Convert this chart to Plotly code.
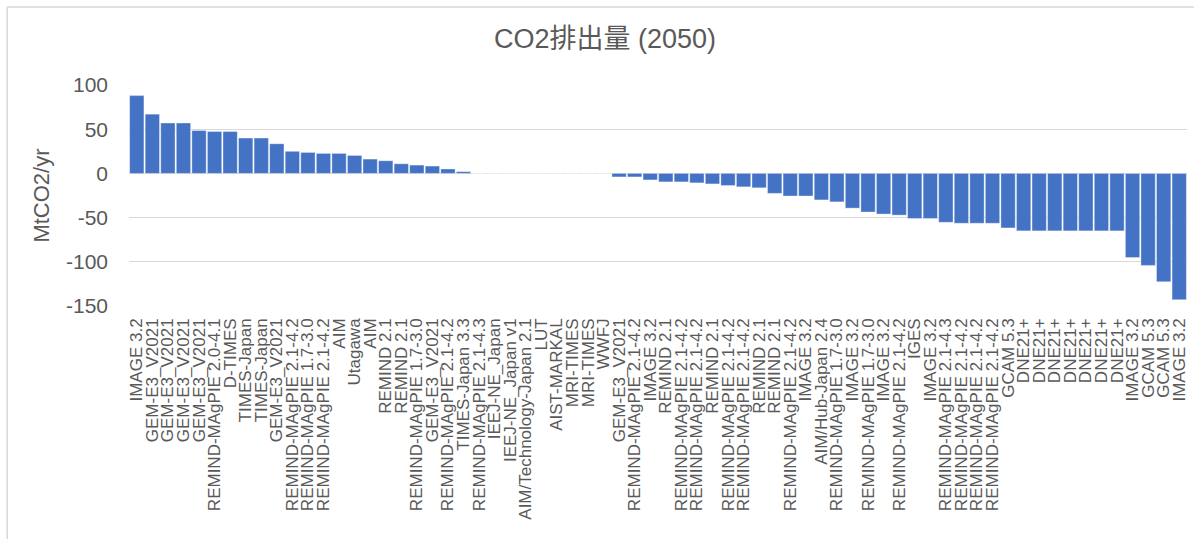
import plotly.graph_objects as go

labels = [
    "IMAGE 3.2", "GEM-E3_V2021", "GEM-E3_V2021", "GEM-E3_V2021", "GEM-E3_V2021",
    "REMIND-MAgPIE 2.0-4.1", "D-TIMES", "TIMES-Japan", "TIMES-Japan", "GEM-E3_V2021",
    "REMIND-MAgPIE 2.1-4.2", "REMIND-MAgPIE 1.7-3.0", "REMIND-MAgPIE 2.1-4.2", "AIM", "Utagawa",
    "AIM", "REMIND 2.1", "REMIND 2.1", "REMIND-MAgPIE 1.7-3.0", "GEM-E3_V2021",
    "REMIND-MAgPIE 2.1-4.2", "TIMES-Japan 3.3", "REMIND-MAgPIE 2.1-4.3", "IEEJ-NE_Japan", "IEEJ-NE_Japan v1",
    "AIM/Technology-Japan 2.1", "LUT", "AIST-MARKAL", "MRI-TIMES", "MRI-TIMES",
    "WWFJ", "GEM-E3_V2021", "REMIND-MAgPIE 2.1-4.2", "IMAGE 3.2", "REMIND 2.1",
    "REMIND-MAgPIE 2.1-4.2", "REMIND-MAgPIE 2.1-4.2", "REMIND 2.1", "REMIND-MAgPIE 2.1-4.2", "REMIND-MAgPIE 2.1-4.2",
    "REMIND 2.1", "REMIND 2.1", "REMIND-MAgPIE 2.1-4.2", "IMAGE 3.2", "AIM/Hub-Japan 2.4",
    "REMIND-MAgPIE 1.7-3.0", "IMAGE 3.2", "REMIND-MAgPIE 1.7-3.0", "IMAGE 3.2", "REMIND-MAgPIE 2.1-4.2",
    "IGES", "IMAGE 3.2", "REMIND-MAgPIE 2.1-4.3", "REMIND-MAgPIE 2.1-4.2", "REMIND-MAgPIE 2.1-4.2",
    "REMIND-MAgPIE 2.1-4.2", "GCAM 5.3", "DNE21+", "DNE21+", "DNE21+",
    "DNE21+", "DNE21+", "DNE21+", "DNE21+", "IMAGE 3.2",
    "GCAM 5.3", "GCAM 5.3", "IMAGE 3.2",
]

values = [
    88, 67, 57, 57, 48.5,
    47.4, 47.4, 40, 40, 33.5,
    25, 23.7, 22.6, 22.6, 20.3,
    16.2, 14.3, 10.9, 9.4, 8.3,
    5, 2, 0, 0, 0,
    0, 0, 0, 0, 0,
    0, -4, -4, -7.4, -9.6,
    -9.6, -10.7, -11.9, -13.7, -15.2,
    -16.3, -22.6, -25.6, -25.6, -30,
    -32.2, -39.3, -43.7, -46, -47.2,
    -51, -51, -55.3, -56.4, -56.4,
    -56.4, -61.7, -65, -65, -65,
    -65, -65, -65, -65, -95.1,
    -104.1, -122.6, -142.9,
]

y_ticks = [-150, -100, -50, 0, 50, 100]
y_tick_text = ["-150", "-100", "-50", "0", "50", "100"]

positions = list(range(len(labels)))

W, H = 1196, 539
L, R, T, B = 129, 7, 85, 233
pw, ph = W - L - R, H - T - B

FONT = "Arial, Liberation Sans, Noto Sans CJK JP, sans-serif"
GREY = "#595959"

fig = go.Figure(go.Bar(
    x=positions,
    y=values,
    marker=dict(color="#4472C4", line=dict(color="rgba(255,255,255,0.6)", width=0.6)),
    hovertext=labels,
))

def px_x(p):
    return (p - L) / pw

def px_y(p):
    return (H - B - p) / ph

shapes = [
    dict(type="line", xref="paper", yref="paper",
         x0=px_x(7), x1=px_x(W), y0=px_y(7), y1=px_y(7),
         line=dict(color="#D9D9D9", width=1.5)),
    dict(type="line", xref="paper", yref="paper",
         x0=px_x(7), x1=px_x(7), y0=px_y(7), y1=px_y(H),
         line=dict(color="#D9D9D9", width=1.5)),
]

fig.update_layout(
    width=W, height=H,
    margin=dict(l=L, r=R, t=T, b=B),
    paper_bgcolor="white", plot_bgcolor="white",
    bargap=0.08,
    showlegend=False,
    font=dict(family=FONT, color=GREY),
    title=dict(text="CO2排出量 (2050)", x=605 / W, xref="container", xanchor="center",
               y=1 - 39 / H, yref="container", yanchor="middle",
               font=dict(size=27, color=GREY, family=FONT)),
    shapes=shapes,
    xaxis=dict(
        range=[-0.5, len(labels) - 0.5],
        tickmode="array", tickvals=positions, ticktext=labels,
        tickangle=-90, tickfont=dict(size=17, color=GREY, family=FONT),
        showgrid=False, zeroline=False, showline=False, ticks="",
        ticklabelstandoff=8,
    ),
    yaxis=dict(
        range=[-150, 100], tickmode="array", tickvals=y_ticks, ticktext=y_tick_text,
        tickfont=dict(size=21, color=GREY, family=FONT),
        gridcolor="#D9D9D9", gridwidth=1.3,
        zeroline=True, zerolinecolor="#D9D9D9", zerolinewidth=1.3,
        showline=False, ticks="", ticklabelstandoff=20,
        title=dict(text="MtCO2/yr", font=dict(size=22, color=GREY, family=FONT), standoff=10),
    ),
)

fig.write_html(
    "out.html",
    config={"displayModeBar": False},
    post_script="document.body.style.margin='0';document.body.style.overflow='hidden';",
)
